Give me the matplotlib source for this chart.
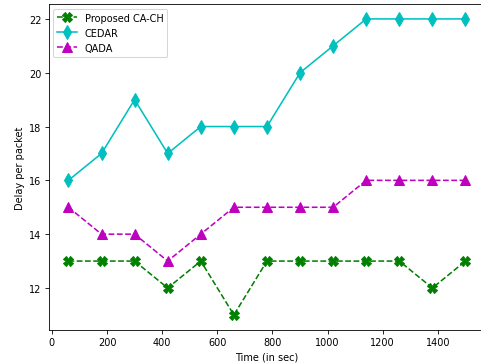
import matplotlib
matplotlib.use('Agg')
import matplotlib.pyplot as plt

# 時間 (秒)
time_sec = [60, 180, 300, 420, 540, 660, 780, 900, 1020, 1140, 1260, 1380, 1500]

# 各手法のパケット当たり遅延
proposed = [13, 13, 13, 12, 13, 11, 13, 13, 13, 13, 13, 12, 13]
cedar = [16, 17, 19, 17, 18, 18, 18, 20, 21, 22, 22, 22, 22]
qada = [15, 14, 14, 13, 14, 15, 15, 15, 15, 16, 16, 16, 16]

plt.rcParams['font.size'] = 9.4

fig = plt.figure(figsize=(481 / 75, 365 / 75), dpi=75)
ax = fig.add_axes([0.101, 0.094, 0.908, 0.892])

ax.plot(time_sec, proposed, 'g--', marker='X', markersize=9, label='Proposed CA-CH')
ax.plot(time_sec, cedar, 'c-', marker='d', markersize=10, label='CEDAR')
ax.plot(time_sec, qada, 'm--', marker='^', markersize=9, label='QADA')

ax.set_xlabel('Time (in sec)')
ax.set_ylabel('Delay per packet')
ax.legend(loc='upper left')

fig.savefig('out.png', dpi=75)
